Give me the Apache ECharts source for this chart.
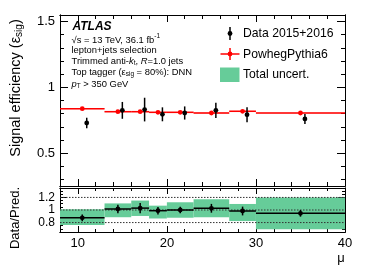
<!DOCTYPE html>
<html><head><meta charset="utf-8">
<script src="https://cdn.jsdelivr.net/npm/echarts@6/dist/echarts.min.js"></script>
<style>html,body{margin:0;padding:0;background:#fff}#c{width:374px;height:268px}</style>
</head><body><div id="c"></div>
<script>
// ---------------- data ----------------
const binEdges   = [8, 13, 16, 18, 20, 23, 27, 30, 40];
const mcEff      = [0.838, 0.815, 0.815, 0.810, 0.810, 0.805, 0.818, 0.805];
const mcStatErr  = [0.005, 0.005, 0.005, 0.005, 0.005, 0.005, 0.005, 0.004];
const dataEff    = [0.729, 0.825, 0.831, 0.795, 0.805, 0.825, 0.792, 0.760];
const dataErr    = [0.040, 0.064, 0.090, 0.053, 0.050, 0.058, 0.057, 0.038];
const ratioVal   = [0.875, 1.016, 1.030, 0.989, 1.000, 1.027, 0.984, 0.947];
const ratioErr   = [0.054, 0.067, 0.080, 0.060, 0.050, 0.070, 0.070, 0.053];
const uncLo      = [0.760, 0.885, 0.905, 0.865, 0.877, 0.883, 0.824, 0.695];
const uncHi      = [1.010, 1.105, 1.150, 1.069, 1.123, 1.171, 1.096, 1.200];
const refLines   = [0.8, 1.0, 1.2];
const xMajorTicks     = [10, 20, 30, 40];
const effMajorTicks   = [0.5, 1, 1.5];
const ratioMajorTicks = [0.8, 1, 1.2];
const legendLabels = ['Data 2015+2016', 'PowhegPythia6', 'Total uncert.'];

// ---------------- helpers ----------------
const FONT = '"Liberation Sans", Arial, Helvetica, sans-serif';
function steps(a, b, s, skip) {
  const r = [];
  for (let k = 0; a + k * s <= b + 1e-9; k++) {
    const v = Math.round((a + k * s) * 1000) / 1000;
    if (!skip.some(m => Math.abs(m - v) < 1e-6)) r.push(v);
  }
  return r;
}
const xMinorTicks = steps(8, 40, 2, xMajorTicks);
const effMinorTicks = steps(0.3, 1.5, 0.1, effMajorTicks);
const ratioMinorTicks = steps(0.65, 1.35, 0.05, ratioMajorTicks);

const X_MIN = 8, X_MAX = 40;
const EFF_MIN = 0.25, EFF_MAX = 1.55;
const R_MIN = 0.65, R_MAX = 1.35;
const DATA_SHIFT = 0.5;

const xAxes = [], yAxes = [];
function addX(grid, pos, ticks, len, labels, fs) {
  xAxes.push({
    type: 'value', gridIndex: grid, position: pos, min: X_MIN, max: X_MAX,
    axisLine: { show: true, onZero: false, lineStyle: { color: '#000', width: 1 } },
    axisTick: { show: true, inside: true, length: len, customValues: ticks, lineStyle: { color: '#000', width: 1 } },
    axisLabel: labels ? { show: true, customValues: ticks, color: '#000', fontSize: fs, fontFamily: FONT, margin: 5 } : { show: false },
    splitLine: { show: false }, axisPointer: { show: false }
  });
  return xAxes.length - 1;
}
function addY(grid, pos, min, max, ticks, len, labels, fs) {
  yAxes.push({
    type: 'value', gridIndex: grid, position: pos, min: min, max: max,
    axisLine: { show: true, onZero: false, lineStyle: { color: '#000', width: 1 } },
    axisTick: { show: true, inside: true, length: len, customValues: ticks, lineStyle: { color: '#000', width: 1 } },
    axisLabel: labels ? { show: true, customValues: ticks, color: '#000', fontSize: fs, fontFamily: FONT, margin: 5,
      formatter: v => String(Math.round(v * 100) / 100) } : { show: false },
    splitLine: { show: false }, axisPointer: { show: false }
  });
  return yAxes.length - 1;
}
// upper grid 0
const xU = addX(0, 'bottom', xMajorTicks, 7, false);
addX(0, 'bottom', xMinorTicks, 4, false);
addX(0, 'top', xMajorTicks, 7, false);
addX(0, 'top', xMinorTicks, 4, false);
const yU = addY(0, 'left', EFF_MIN, EFF_MAX, effMajorTicks, 8, true, 13);
addY(0, 'left', EFF_MIN, EFF_MAX, effMinorTicks, 4, false);
addY(0, 'right', EFF_MIN, EFF_MAX, effMajorTicks, 8, false);
addY(0, 'right', EFF_MIN, EFF_MAX, effMinorTicks, 4, false);
// lower grid 1
const xL = addX(1, 'bottom', xMajorTicks, 6, true, 13);
addX(1, 'bottom', xMinorTicks, 3, false);
addX(1, 'top', xMajorTicks, 6, false);
addX(1, 'top', xMinorTicks, 3, false);
const yL = addY(1, 'left', R_MIN, R_MAX, ratioMajorTicks, 7, true, 12);
addY(1, 'left', R_MIN, R_MAX, ratioMinorTicks, 3, false);
addY(1, 'right', R_MIN, R_MAX, ratioMajorTicks, 7, false);
addY(1, 'right', R_MIN, R_MAX, ratioMinorTicks, 3, false);

const bins = binEdges.slice(0, -1).map((lo, i) => [lo, binEdges[i + 1]]);
const mcData = bins.map((b, i) => [b[0], b[1], mcEff[i], mcStatErr[i]]);
const dtData = bins.map((b, i) => [b[0], b[1], dataEff[i], dataErr[i]]);
const bandData = bins.map((b, i) => [b[0], b[1], uncLo[i], uncHi[i]]);
const ratioData = bins.map((b, i) => [b[0], b[1], ratioVal[i], ratioErr[i]]);

const RED = '#ff0000', GREEN = '#66cc99';

function mcRender(params, api) {
  const lo = api.value(0), hi = api.value(1), v = api.value(2), e = api.value(3);
  const p1 = api.coord([lo, v + e]), p2 = api.coord([hi, v - e]);
  const a = api.coord([lo, v]), b = api.coord([hi, v]), c = api.coord([(lo + hi) / 2, v]);
  return { type: 'group', children: [
    { type: 'rect', shape: { x: p1[0], y: p1[1], width: p2[0] - p1[0], height: p2[1] - p1[1] }, style: { fill: 'rgba(255,0,0,0.3)' } },
    { type: 'line', shape: { x1: a[0], y1: a[1], x2: b[0], y2: b[1] }, style: { stroke: RED, lineWidth: 1.5 } },
    { type: 'circle', shape: { cx: c[0], cy: c[1], r: 2.4 }, style: { fill: RED } }
  ]};
}
function dataRender(params, api) {
  const lo = api.value(0), hi = api.value(1), v = api.value(2), e = api.value(3);
  const x = (lo + hi) / 2 + DATA_SHIFT;
  const t = api.coord([x, v + e]), b = api.coord([x, v - e]), c = api.coord([x, v]);
  return { type: 'group', children: [
    { type: 'line', shape: { x1: t[0], y1: t[1], x2: b[0], y2: b[1] }, style: { stroke: '#000', lineWidth: 1.5 } },
    { type: 'circle', shape: { cx: c[0], cy: c[1], r: 2.4 }, style: { fill: '#000' } }
  ]};
}
function bandRender(params, api) {
  const p1 = api.coord([api.value(0), api.value(3)]), p2 = api.coord([api.value(1), api.value(2)]);
  return { type: 'rect', shape: { x: p1[0], y: p1[1], width: p2[0] - p1[0], height: p2[1] - p1[1] }, style: { fill: GREEN } };
}
function refRender(params, api) {
  const v = api.value(0);
  const a = api.coord([X_MIN, v]), b = api.coord([X_MAX, v]);
  return { type: 'line', shape: { x1: a[0], y1: a[1], x2: b[0], y2: b[1] }, style: { stroke: '#333', lineWidth: 1, lineDash: [1.5, 1.5] } };
}
function ratioRender(params, api) {
  const lo = api.value(0), hi = api.value(1), v = api.value(2), e = api.value(3);
  const x = (lo + hi) / 2;
  const a = api.coord([lo, v]), b = api.coord([hi, v]);
  const t = api.coord([x, v + e]), d = api.coord([x, v - e]), c = api.coord([x, v]);
  return { type: 'group', children: [
    { type: 'line', shape: { x1: a[0], y1: a[1], x2: b[0], y2: b[1] }, style: { stroke: '#000', lineWidth: 1.5 } },
    { type: 'line', shape: { x1: t[0], y1: t[1], x2: d[0], y2: d[1] }, style: { stroke: '#000', lineWidth: 1.5 } },
    { type: 'circle', shape: { cx: c[0], cy: c[1], r: 2.4 }, style: { fill: '#000' } }
  ]};
}

// text runs
const mctx = document.createElement('canvas').getContext('2d');
function fontStr(p) { return (p.style || 'normal') + ' ' + (p.weight || 'normal') + ' ' + p.size + 'px ' + FONT; }
function runs(x, y, parts) {
  const els = []; let cx = x;
  for (const p of parts) {
    const f = fontStr(p);
    mctx.font = f;
    els.push({ type: 'text', x: cx, y: y + (p.dy || 0), style: { text: p.t, font: f, fill: '#000', align: 'left', verticalAlign: 'middle' } });
    cx += mctx.measureText(p.t).width + (p.gap || 0);
  }
  return { els, width: cx - x };
}
function measure(parts) { return runs(0, 0, parts).width; }

const S = 9.4, SS = 6.5;
const graphics = [];
function addLine(x, y, parts) { graphics.push(...runs(x, y, parts).els); }
addLine(72.5, 26.5, [{ t: 'ATLAS', size: 12, weight: 'bold', style: 'italic' }]);
addLine(71.5, 40, [{ t: '\u221As = 13 TeV, 36.1 fb', size: S }, { t: '-1', size: SS, dy: -3.5 }]);
addLine(71.5, 50.5, [{ t: 'lepton+jets selection', size: S }]);
addLine(71.5, 61, [{ t: 'Trimmed anti-', size: S }, { t: 'k', size: S, style: 'italic' }, { t: 't', size: SS, dy: 2.5 },
  { t: ', ', size: S }, { t: 'R', size: S, style: 'italic' }, { t: '=1.0 jets', size: S }]);
addLine(71.5, 72, [{ t: 'Top tagger (', size: S }, { t: '\u03B5', size: S }, { t: 'sig', size: SS, dy: 2.5 }, { t: ' = 80%): DNN', size: S }]);
addLine(71.5, 84, [{ t: 'p', size: S, style: 'italic' }, { t: 'T', size: SS, dy: 2.5 }, { t: ' > 350 GeV', size: S }]);

// legend
graphics.push({ type: 'line', shape: { x1: 230, y1: 27, x2: 230, y2: 40 }, style: { stroke: '#000', lineWidth: 1.5 } });
graphics.push({ type: 'circle', shape: { cx: 230, cy: 33.5, r: 2.4 }, style: { fill: '#000' } });
graphics.push({ type: 'line', shape: { x1: 220.5, y1: 54, x2: 239.5, y2: 54 }, style: { stroke: RED, lineWidth: 1.5 } });
graphics.push({ type: 'line', shape: { x1: 230, y1: 48, x2: 230, y2: 60 }, style: { stroke: RED, lineWidth: 1.5 } });
graphics.push({ type: 'circle', shape: { cx: 230, cy: 54, r: 2.4 }, style: { fill: RED } });
graphics.push({ type: 'rect', shape: { x: 220, y: 67.5, width: 19.5, height: 14.5 }, style: { fill: GREEN } });
addLine(243, 33.5, [{ t: legendLabels[0], size: 12.2 }]);
addLine(243, 54.5, [{ t: legendLabels[1], size: 12.2 }]);
addLine(243, 75, [{ t: legendLabels[2], size: 12.2 }]);

// axis titles (rotated)
function rotated(cx, cy, parts) {
  const w = measure(parts);
  return { type: 'group', x: cx, y: cy, rotation: Math.PI / 2, children: runs(-w / 2, 0, parts).els };
}
graphics.push(rotated(16, 88, [{ t: 'Signal efficiency (', size: 14.5 }, { t: '\u03B5', size: 14.5 }, { t: 'sig', size: 10, dy: 3.5 }, { t: ')', size: 14.5 }]));
graphics.push(rotated(15, 218, [{ t: 'Data/Pred.', size: 13 }]));
graphics.push({ type: 'text', x: 341, y: 258, style: { text: '\u03BC', font: 'normal normal 13px ' + FONT, fill: '#000', align: 'center', verticalAlign: 'middle' } });

const chart = echarts.init(document.getElementById('c'), null, { renderer: 'canvas' });
chart.setOption({
  animation: false,
  backgroundColor: '#fff',
  grid: [
    { left: 60, right: 29, top: 15, height: 171, outerBoundsMode: 'none', containLabel: false },
    { left: 60, right: 29, top: 188, height: 44, outerBoundsMode: 'none', containLabel: false }
  ],
  xAxis: xAxes,
  yAxis: yAxes,
  series: [
    { type: 'custom', xAxisIndex: xU, yAxisIndex: yU, data: mcData, encode: { x: [0, 1], y: [2] }, renderItem: mcRender, z: 2, silent: true },
    { type: 'custom', xAxisIndex: xU, yAxisIndex: yU, data: dtData, encode: { x: [0, 1], y: [2] }, renderItem: dataRender, z: 3, silent: true },
    { type: 'custom', xAxisIndex: xL, yAxisIndex: yL, data: bandData, encode: { x: [0, 1], y: [2, 3] }, renderItem: bandRender, z: 1, silent: true },
    { type: 'custom', xAxisIndex: xL, yAxisIndex: yL, data: refLines.map(v => [v]), encode: { y: [0] }, renderItem: refRender, z: 2, silent: true },
    { type: 'custom', xAxisIndex: xL, yAxisIndex: yL, data: ratioData, encode: { x: [0, 1], y: [2] }, renderItem: ratioRender, z: 3, silent: true }
  ],
  graphic: graphics
});
</script>
</body></html>
